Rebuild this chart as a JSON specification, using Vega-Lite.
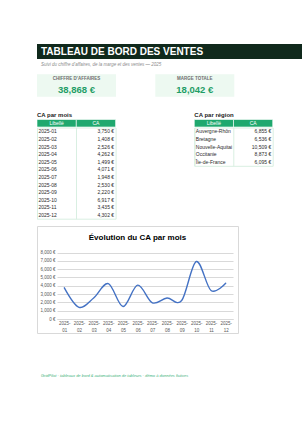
{
  "$schema": "https://vega.github.io/schema/vega-lite/v6.json",
  "padding": {"left": 36, "top": 44, "right": 0, "bottom": 0},
  "background": "white",
  "config": {
    "font": "Liberation Sans",
    "locale": {"number": {"decimal": ".", "thousands": ",", "grouping": [3], "currency": ["", " €"]}},
    "view": {"stroke": null},
    "concat": {"spacing": 0}
  },
  "datasets": {
    "mois": [
      {"mois": "2025-01", "ca": 3750},
      {"mois": "2025-02", "ca": 1408},
      {"mois": "2025-03", "ca": 2526},
      {"mois": "2025-04", "ca": 4262},
      {"mois": "2025-05", "ca": 1499},
      {"mois": "2025-06", "ca": 4071},
      {"mois": "2025-07", "ca": 1948},
      {"mois": "2025-08", "ca": 2530},
      {"mois": "2025-09", "ca": 2220},
      {"mois": "2025-10", "ca": 6917},
      {"mois": "2025-11", "ca": 3435},
      {"mois": "2025-12", "ca": 4302}
    ],
    "regions": [
      {"region": "Auvergne-Rhône-Alpes", "ca": 6855},
      {"region": "Bretagne", "ca": 6536},
      {"region": "Nouvelle-Aquitaine", "ca": 10509},
      {"region": "Occitanie", "ca": 8873},
      {"region": "Île-de-France", "ca": 6095}
    ]
  },
  "title": {
    "text": "GridPilot · tableaux de bord & automatisation de tableurs · démo à données fictives",
    "orient": "bottom", "anchor": "start", "frame": "group", "offset": 40, "dx": 4,
    "fontSize": 4, "fontWeight": "normal", "fontStyle": "italic", "color": "#3cb27a"
  },
  "bounds": "flush",
  "spacing": 15.3,
  "vconcat": [
    {
      "width": 266, "height": 15,
      "data": {"values": [{"bandeau": "titre"}]},
      "mark": {"type": "rect", "color": "#10291c"},
      "encoding": {},
      "title": {
        "text": "TABLEAU DE BORD DES VENTES",
        "subtitle": "Suivi du chiffre d'affaires, de la marge et des ventes — 2025",
        "anchor": "start", "frame": "group", "dx": 4, "offset": -22,
        "fontSize": 10, "fontWeight": "bold", "color": "white",
        "subtitleFontSize": 4.5, "subtitleFontStyle": "italic", "subtitleColor": "#8c8c8c", "subtitlePadding": 5
      }
    },
    {
      "bounds": "flush",
      "spacing": 45.2,
      "vconcat": [
        {
          "bounds": "flush",
          "spacing": 39.3,
          "hconcat": [
            {
              "width": 79, "height": 22.5,
              "data": {"values": [{"indicateur": "CHIFFRE D'AFFAIRES", "valeur": 38868}]},
              "layer": [
                {"mark": {"type": "rect", "color": "#edf9f1"}, "encoding": {}},
                {"mark": {"type": "text", "fontSize": 4.5, "fontWeight": "bold", "color": "#6e6e6e", "dy": -6.8}, "encoding": {"text": {"field": "indicateur"}}},
                {"mark": {"type": "text", "fontSize": 9.5, "fontWeight": "bold", "color": "#1f9d66", "dy": 4}, "encoding": {"text": {"field": "valeur", "type": "quantitative", "format": "$,.0f"}}}
              ]
            },
            {
              "width": 79, "height": 22.5,
              "data": {"values": [{"indicateur": "MARGE TOTALE", "valeur": 18042}]},
              "layer": [
                {"mark": {"type": "rect", "color": "#edf9f1"}, "encoding": {}},
                {"mark": {"type": "text", "fontSize": 4.5, "fontWeight": "bold", "color": "#6e6e6e", "dy": -6.8}, "encoding": {"text": {"field": "indicateur"}}},
                {"mark": {"type": "text", "fontSize": 9.5, "fontWeight": "bold", "color": "#1f9d66", "dy": 4}, "encoding": {"text": {"field": "valeur", "type": "quantitative", "format": "$,.0f"}}}
              ]
            }
          ]
        },
        {
          "bounds": "flush",
          "spacing": 106.5,
          "vconcat": [
            {
              "bounds": "flush",
              "spacing": 157.3,
              "hconcat": [
                {
                  "title": {"text": "CA par mois", "anchor": "start", "frame": "group", "offset": 1.5, "fontSize": 6, "fontWeight": "bold", "color": "#222222"},
                  "bounds": "flush",
                  "spacing": 0,
                  "vconcat": [
                    {
                      "width": 78.6, "height": 7.5,
                      "data": {"values": [{"colonne": "Libellé"}, {"colonne": "CA"}]},
                      "encoding": {"x": {"field": "colonne", "type": "nominal", "sort": null, "axis": null, "scale": {"type": "band", "paddingInner": 0, "paddingOuter": 0}}},
                      "layer": [
                        {"mark": {"type": "rect", "color": "#1fa86e", "stroke": "white", "strokeWidth": 0.6}},
                        {"mark": {"type": "text", "color": "white", "fontSize": 5}, "encoding": {"text": {"field": "colonne"}}}
                      ]
                    },
                    {
                      "width": 78.6, "height": 91.2,
                      "data": {"name": "mois"},
                      "view": {"stroke": "#d9efe2"},
                      "encoding": {"y": {"field": "mois", "type": "ordinal", "sort": null, "axis": null}},
                      "layer": [
                        {
                          "mark": {"type": "text", "align": "left", "fontSize": 5, "color": "#2b2b2b", "dx": 1.5, "limit": 38, "ellipsis": " "},
                          "encoding": {
                            "x": {"datum": "Libellé", "type": "nominal", "bandPosition": 0,
                                  "scale": {"type": "band", "domain": ["Libellé", "CA"], "paddingInner": 0, "paddingOuter": 0},
                                  "axis": {"grid": true, "gridColor": "#d9efe2", "bandPosition": 0, "labels": false, "ticks": false, "domain": false, "title": null}},
                            "text": {"field": "mois"}
                          }
                        },
                        {
                          "mark": {"type": "text", "align": "right", "fontSize": 5, "color": "#2b2b2b", "dx": -1.5},
                          "encoding": {
                            "x": {"datum": "CA", "type": "nominal", "bandPosition": 1},
                            "text": {"field": "ca", "type": "quantitative", "format": "$,.0f"}
                          }
                        }
                      ]
                    }
                  ]
                },
                {
                  "title": {"text": "CA par région", "anchor": "start", "frame": "group", "offset": 1.5, "fontSize": 6, "fontWeight": "bold", "color": "#222222"},
                  "bounds": "flush",
                  "spacing": 0,
                  "vconcat": [
                    {
                      "width": 78.4, "height": 7.5,
                      "data": {"values": [{"colonne": "Libellé"}, {"colonne": "CA"}]},
                      "encoding": {"x": {"field": "colonne", "type": "nominal", "sort": null, "axis": null, "scale": {"type": "band", "paddingInner": 0, "paddingOuter": 0}}},
                      "layer": [
                        {"mark": {"type": "rect", "color": "#1fa86e", "stroke": "white", "strokeWidth": 0.6}},
                        {"mark": {"type": "text", "color": "white", "fontSize": 5}, "encoding": {"text": {"field": "colonne"}}}
                      ]
                    },
                    {
                      "width": 78.4, "height": 38.3,
                      "data": {"name": "regions"},
                      "view": {"stroke": "#d9efe2"},
                      "encoding": {"y": {"field": "region", "type": "ordinal", "sort": null, "axis": null}},
                      "layer": [
                        {
                          "mark": {"type": "text", "align": "left", "fontSize": 5, "color": "#2b2b2b", "dx": 1.5, "limit": 38.5, "ellipsis": " "},
                          "encoding": {
                            "x": {"datum": "Libellé", "type": "nominal", "bandPosition": 0,
                                  "scale": {"type": "band", "domain": ["Libellé", "CA"], "paddingInner": 0, "paddingOuter": 0},
                                  "axis": {"grid": true, "gridColor": "#d9efe2", "bandPosition": 0, "labels": false, "ticks": false, "domain": false, "title": null}},
                            "text": {"field": "region"}
                          }
                        },
                        {
                          "mark": {"type": "text", "align": "right", "fontSize": 5, "color": "#2b2b2b", "dx": -1.5},
                          "encoding": {
                            "x": {"datum": "CA", "type": "nominal", "bandPosition": 1},
                            "text": {"field": "ca", "type": "quantitative", "format": "$,.0f"}
                          }
                        }
                      ]
                    }
                  ]
                }
              ]
            },
            {
              "width": 201, "height": 107,
              "data": {"name": "mois"},
              "view": {"stroke": "#d9d9d9", "fill": "white"},
              "title": {"text": "Évolution du CA par mois", "anchor": "middle", "frame": "group", "offset": -16, "fontSize": 8, "fontWeight": "bold", "color": "#000000"},
              "mark": {"type": "line", "interpolate": "cardinal", "color": "#4472c4", "strokeWidth": 1.4, "strokeCap": "round"},
              "encoding": {
                "x": {"field": "mois", "type": "ordinal",
                      "scale": {"type": "point", "range": [20, 196], "padding": 0.5},
                      "axis": {"title": null, "offset": -14, "domainColor": "#d9d9d9", "ticks": false, "grid": false, "labelAngle": 0,
                               "labelExpr": "[slice(datum.label, 0, 5), slice(datum.label, 5)]",
                               "labelFontSize": 4.5, "labelColor": "#595959", "labelPadding": 1.5, "labelLineHeight": 6.5, "labelOverlap": false}},
                "y": {"field": "ca", "type": "quantitative",
                      "scale": {"domain": [0, 8000], "range": [93, 26.5], "nice": false},
                      "axis": {"title": null, "offset": -20, "domain": false, "ticks": false, "grid": true, "gridColor": "#d9d9d9",
                               "values": [0, 1000, 2000, 3000, 4000, 5000, 6000, 7000, 8000], "format": "$,.0f",
                               "labelFontSize": 4.5, "labelColor": "#595959", "labelPadding": 2}}
              }
            }
          ]
        }
      ]
    }
  ]
}
